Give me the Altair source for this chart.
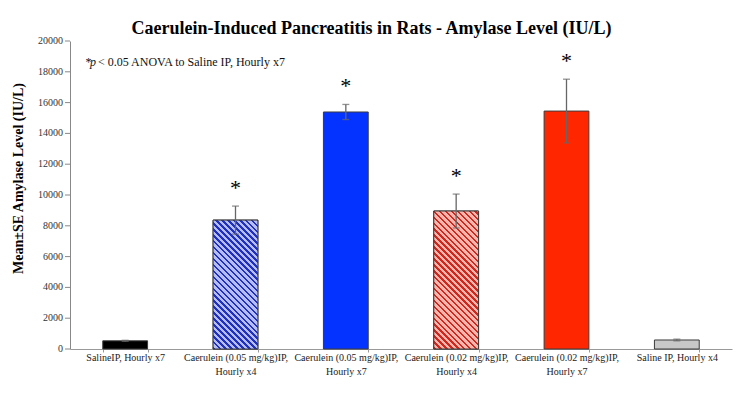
import math
import altair as alt
import pandas as pd

# ---------------- data ----------------
categories = [
    "SalineIP, Hourly x7",
    "Caerulein (0.05 mg/kg)IP,|Hourly x4",
    "Caerulein (0.05 mg/kg)IP,|Hourly x7",
    "Caerulein (0.02 mg/kg)IP,|Hourly x4",
    "Caerulein (0.02 mg/kg)IP,|Hourly x7",
    "Saline IP, Hourly x4",
]
means = [530, 8370, 15390, 8960, 15450, 585]
se = [35, 910, 490, 1100, 2070, 55]
significant = [False, True, True, True, True, False]
y_ticks = [0, 2000, 4000, 6000, 8000, 10000, 12000, 14000, 16000, 18000, 20000]

title_text = "Caerulein-Induced Pancreatitis in Rats - Amylase Level (IU/L)"
y_title = "Mean\u00b1SE Amylase Level (IU/L)"
note_star = "*"
note_p = "p"
note_rest = "< 0.05 ANOVA to Saline IP, Hourly x7"

# ---------------- style ----------------
solid_colors = ["#000000", "#b6bcf4", "#0433ff", "#f6b6ad", "#ff2600", "#c8c8c8"]
hatched = {1: ("#b6bcf4", "#2030c0"), 3: ("#f6b6ad", "#d0281e")}
SERIF = "Liberation Serif"
PLOT_W, PLOT_H = 662, 308
YMAX = 20000
P_IN, P_OUT = 0.594, 0.297
step = PLOT_W / (len(categories) - P_IN + 2 * P_OUT)
BAR_W = step * (1 - P_IN)


def hatch_gradient(value, light, dark, period=4.2, dark_frac=0.42):
    W = BAR_W
    H = value / YMAX * PLOT_H
    a = (W + H) / (W ** 2 + H ** 2)
    span = (W + H) / math.sqrt(2)
    n = span / period
    stops = []
    k = 0
    while k / n < 1:
        t0 = k / n
        t1 = min((k + dark_frac) / n, 1)
        t2 = min((k + 1) / n, 1)
        stops += [
            {"offset": t0, "color": dark},
            {"offset": t1, "color": dark},
            {"offset": t1, "color": light},
            {"offset": t2, "color": light},
        ]
        k += 1
    return {
        "gradient": "linear",
        "x1": 0, "y1": 1,
        "x2": a * W, "y2": 1 - a * H,
        "stops": stops,
    }


df = pd.DataFrame({"cat": categories, "mean": means, "se": se, "sig": significant})
df["lo"] = df["mean"] - df["se"]
df["hi"] = df["mean"] + df["se"]
ticks_df = pd.DataFrame({"v": y_ticks})

x_axis = alt.Axis(
    title=None,
    labelAngle=0,
    labelExpr="split(datum.label, '|')",
    labelFont=SERIF,
    labelFontSize=10,
    labelLineHeight=14,
    labelColor="#222222",
    labelPadding=0,
    tickBand="extent",
    tickSize=3,
    tickColor="#999999",
    domainColor="#999999",
)
x_scale = alt.Scale(paddingInner=P_IN, paddingOuter=P_OUT)
x_enc = alt.X("cat:N", sort=categories, scale=x_scale, axis=x_axis)

y_scale = alt.Scale(domain=[0, YMAX], nice=False)
y_axis = alt.Axis(
    title=y_title,
    labels=False,
    ticks=False,
    grid=False,
    domainColor="#888888",
    titleFont=SERIF,
    titleFontSize=14,
    titleFontWeight="bold",
    titleColor="#000000",
    titleAngle=-90,
    titleX=-52,
    titleY=137,
    titleAlign="center",
    titleBaseline="middle",
)


def y_enc(field):
    return alt.Y(field, scale=y_scale, axis=y_axis)


base = alt.Chart(df)

bars = base.mark_bar(stroke="#3c3c3c", strokeWidth=1).encode(
    x=x_enc,
    y=y_enc("mean:Q"),
    fill=alt.Fill("cat:N", scale=alt.Scale(domain=categories, range=solid_colors), legend=None),
)

layers = [bars]
for idx, (light, dark) in hatched.items():
    layers.append(
        base.transform_filter(alt.datum.cat == categories[idx])
        .mark_bar(stroke="#3c3c3c", strokeWidth=1,
                  fill=hatch_gradient(means[idx], light, dark))
        .encode(x=x_enc, y=y_enc("mean:Q"))
    )

err = base.mark_rule(color="#666666", strokeWidth=1.3).encode(
    x=x_enc, y=y_enc("lo:Q"), y2="hi:Q"
)
cap_hi = base.mark_tick(color="#666666", size=7, thickness=1.3).encode(
    x=x_enc, y=y_enc("hi:Q")
)
cap_lo = base.mark_tick(color="#666666", size=7, thickness=1.3).encode(
    x=x_enc, y=y_enc("lo:Q")
)
stars = base.transform_filter(alt.datum.sig).mark_text(
    text="*", font=SERIF, fontSize=22, color="#000000", dy=-11, baseline="alphabetic"
).encode(x=x_enc, y=y_enc("hi:Q"))

# y-axis ticks and labels drawn from the tick list through the y scale
tick_base = alt.Chart(ticks_df)
y_tick_marks = tick_base.mark_rule(color="#888888", strokeWidth=1).encode(
    x=alt.value(-5), x2=alt.value(0), y=y_enc("v:Q")
)
y_tick_labels = tick_base.mark_text(
    font=SERIF, fontSize=10, color="#333333", align="right", baseline="middle"
).encode(x=alt.value(-7), y=y_enc("v:Q"), text=alt.Text("v:Q", format="d"))

note_df = pd.DataFrame({"a": [note_star], "b": [note_p], "c": [note_rest]})
note_common = dict(font=SERIF, fontSize=12, color="#111111", baseline="middle", align="left")
NOTE_Y = 21
n1 = alt.Chart(note_df).mark_text(**note_common).encode(
    text="a:N", x=alt.value(15.5), y=alt.value(NOTE_Y))
n2 = alt.Chart(note_df).mark_text(fontStyle="italic", **note_common).encode(
    text="b:N", x=alt.value(20), y=alt.value(NOTE_Y))
n3 = alt.Chart(note_df).mark_text(**note_common).encode(
    text="c:N", x=alt.value(28), y=alt.value(NOTE_Y))

layers += [err, cap_hi, cap_lo, stars, y_tick_marks, y_tick_labels, n1, n2, n3]

chart = alt.layer(*layers).properties(
    width=PLOT_W,
    height=PLOT_H,
    autosize=alt.AutoSizeParams(type="none"),
    padding={"left": 62, "top": 33, "right": 6, "bottom": 36},
    title=alt.Title(
        title_text, font=SERIF, fontSize=18, fontWeight="bold", color="#000000",
        anchor="middle", frame="bounds", offset=-2,
    ),
    background="#ffffff",
).configure_view(stroke=None)

chart.save("out.html", embed_options={"renderer": "svg", "actions": False})
